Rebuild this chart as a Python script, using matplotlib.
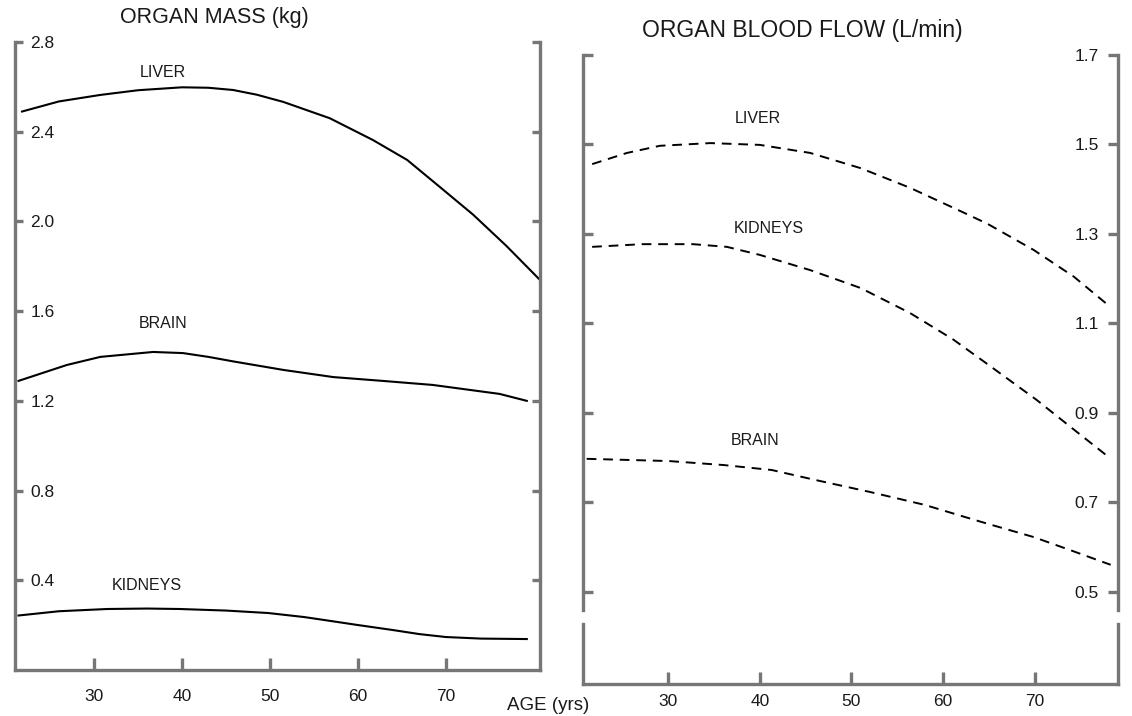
import matplotlib
matplotlib.use("Agg")
import matplotlib.pyplot as plt

# ---------------- data ----------------
mass_liver_age = [21.8, 26, 30.7, 35, 40, 43, 45.8, 48.5, 51.5, 56.8, 61.7, 65.6, 69.3, 73.1, 76.9, 80.7]
mass_liver = [2.49, 2.535, 2.564, 2.585, 2.598, 2.596, 2.586, 2.565, 2.533, 2.46, 2.363, 2.274, 2.154, 2.03, 1.89, 1.739]

mass_brain_age = [21.4, 26.9, 30.7, 36.7, 40.1, 43, 45.8, 51.5, 57.2, 62.8, 68.5, 76.1, 79.2]
mass_brain = [1.289, 1.36, 1.396, 1.418, 1.413, 1.396, 1.376, 1.338, 1.306, 1.289, 1.271, 1.231, 1.20]

mass_kid_age = [21.4, 26, 31.5, 36, 39.7, 45, 49.8, 53.9, 57, 59.9, 64, 67, 70, 74, 79.2]
mass_kid = [0.243, 0.262, 0.272, 0.274, 0.272, 0.265, 0.254, 0.236, 0.218, 0.201, 0.178, 0.16, 0.147, 0.14, 0.138]

flow_liver_age = [21.7, 25.5, 29.1, 34.6, 40.0, 45.5, 51.0, 56.4, 61.9, 64.9, 69.9, 74.3, 78.3]
flow_liver = [1.456, 1.481, 1.497, 1.503, 1.499, 1.481, 1.447, 1.403, 1.351, 1.322, 1.264, 1.204, 1.136]

flow_kid_age = [21.7, 27.2, 32.7, 36.4, 40.0, 45.5, 51.0, 56.4, 61.1, 64.7, 70.2, 74.0, 78.2]
flow_kid = [1.271, 1.277, 1.277, 1.271, 1.253, 1.219, 1.179, 1.123, 1.064, 1.011, 0.929, 0.867, 0.799]

flow_brain_age = [21.1, 30.1, 36.1, 41.3, 46.0, 52.0, 58.0, 64.0, 69.9, 74.0, 78.3]
flow_brain = [0.797, 0.792, 0.783, 0.772, 0.750, 0.723, 0.694, 0.657, 0.622, 0.592, 0.560]

age_ticks = [30, 40, 50, 60, 70]
age_labels = ["30", "40", "50", "60", "70"]
mass_ticks = [0.4, 0.8, 1.2, 1.6, 2.0, 2.4, 2.8]
mass_labels = ["0.4", "0.8", "1.2", "1.6", "2.0", "2.4", "2.8"]
flow_ticks = [0.5, 0.7, 0.9, 1.1, 1.3, 1.5, 1.7]
flow_labels = ["0.5", "0.7", "0.9", "1.1", "1.3", "1.5", "1.7"]

# ---------------- style ----------------
plt.rcParams['font.family'] = ['Liberation Sans', 'DejaVu Sans']
SPINE = '#767676'
SLW = 2.4
TXT = '#1a1a1a'
TICKFS = 12.5
LABFS = 11.5

fig = plt.figure(figsize=(11.32, 7.16), dpi=100)
W, H = 1132, 716


def fpos(x0, y0, x1, y1):
    return [x0 / W, 1 - y1 / H, (x1 - x0) / W, (y1 - y0) / H]


# ---------------- left panel ----------------
axL = fig.add_axes(fpos(15, 42, 540, 670))
axL.set_xlim(21, 80.7)
axL.set_ylim(0, 2.8)
axL.spines['top'].set_visible(False)
for s in ['left', 'right', 'bottom']:
    axL.spines[s].set_color(SPINE)
    axL.spines[s].set_linewidth(SLW)
axL.set_yticks(mass_ticks)
axL.set_yticklabels(mass_labels)
axL.set_xticks(age_ticks)
axL.set_xticklabels(age_labels)
axL.tick_params(axis='y', direction='in', left=True, right=True, labelleft=True,
                labelright=False, length=6, width=2.4, color=SPINE, pad=-11,
                labelsize=TICKFS, labelcolor=TXT)
for t in axL.get_yticklabels():
    t.set_horizontalalignment('left')
axL.tick_params(axis='x', direction='in', length=9, width=2.4, color=SPINE,
                pad=14, labelsize=TICKFS, labelcolor=TXT)

axL.plot(mass_liver_age, mass_liver, color='black', lw=1.5)
axL.plot(mass_brain_age, mass_brain, color='black', lw=1.5)
axL.plot(mass_kid_age, mass_kid, color='black', lw=1.5)
axL.text(37.8, 2.666, "LIVER", fontsize=LABFS, ha='center', va='center', color=TXT)
axL.text(37.8, 1.547, "BRAIN", fontsize=LABFS, ha='center', va='center', color=TXT)
axL.text(36.0, 0.375, "KIDNEYS", fontsize=LABFS, ha='center', va='center', color=TXT)
fig.text(214 / W, 1 - 17 / H, "ORGAN MASS (kg)", fontsize=15.5, ha='center',
         va='center', color=TXT)

# ---------------- right panel (broken axis) ----------------
axR = fig.add_axes(fpos(583, 55, 1118, 610))
axR.set_xlim(20.7, 79.1)
axR.set_ylim(1.7 - 555 / 447.2, 1.7)
axR.spines['top'].set_visible(False)
axR.spines['bottom'].set_visible(False)
for s in ['left', 'right']:
    axR.spines[s].set_color(SPINE)
    axR.spines[s].set_linewidth(SLW)
axR.set_xticks([])
axR.set_yticks(flow_ticks)
axR.set_yticklabels(flow_labels)
axR.tick_params(axis='y', direction='in', left=True, right=True, labelleft=False,
                labelright=True, length=7, width=2.4, color=SPINE, pad=-14,
                labelsize=TICKFS, labelcolor=TXT)
for t in axR.get_yticklabels():
    t.set_horizontalalignment('right')

dash = (0, (5, 3.5))
axR.plot(flow_liver_age, flow_liver, color='black', lw=1.4, ls=dash)
axR.plot(flow_kid_age, flow_kid, color='black', lw=1.4, ls=dash)
axR.plot(flow_brain_age, flow_brain, color='black', lw=1.4, ls=dash)
axR.text(39.8, 1.557, "LIVER", fontsize=LABFS, ha='center', va='center', color=TXT)
axR.text(41.0, 1.313, "KIDNEYS", fontsize=LABFS, ha='center', va='center', color=TXT)
axR.text(39.5, 0.839, "BRAIN", fontsize=LABFS, ha='center', va='center', color=TXT)
fig.text(802 / W, 1 - 30 / H, "ORGAN BLOOD FLOW (L/min)", fontsize=16.5,
         ha='center', va='center', color=TXT)

axB = fig.add_axes(fpos(583, 624, 1118, 684))
axB.set_xlim(20.7, 79.1)
axB.set_ylim(0, 1)
axB.spines['top'].set_visible(False)
for s in ['left', 'right', 'bottom']:
    axB.spines[s].set_color(SPINE)
    axB.spines[s].set_linewidth(SLW)
axB.set_yticks([])
axB.set_xticks(age_ticks)
axB.set_xticklabels(age_labels)
axB.tick_params(axis='x', direction='in', length=9, width=2.4, color=SPINE,
                pad=7, labelsize=TICKFS, labelcolor=TXT)

fig.text(548 / W, 1 - 705 / H, "AGE (yrs)", fontsize=13.5, ha='center',
         va='center', color=TXT)

fig.savefig("out.png", dpi=100)
